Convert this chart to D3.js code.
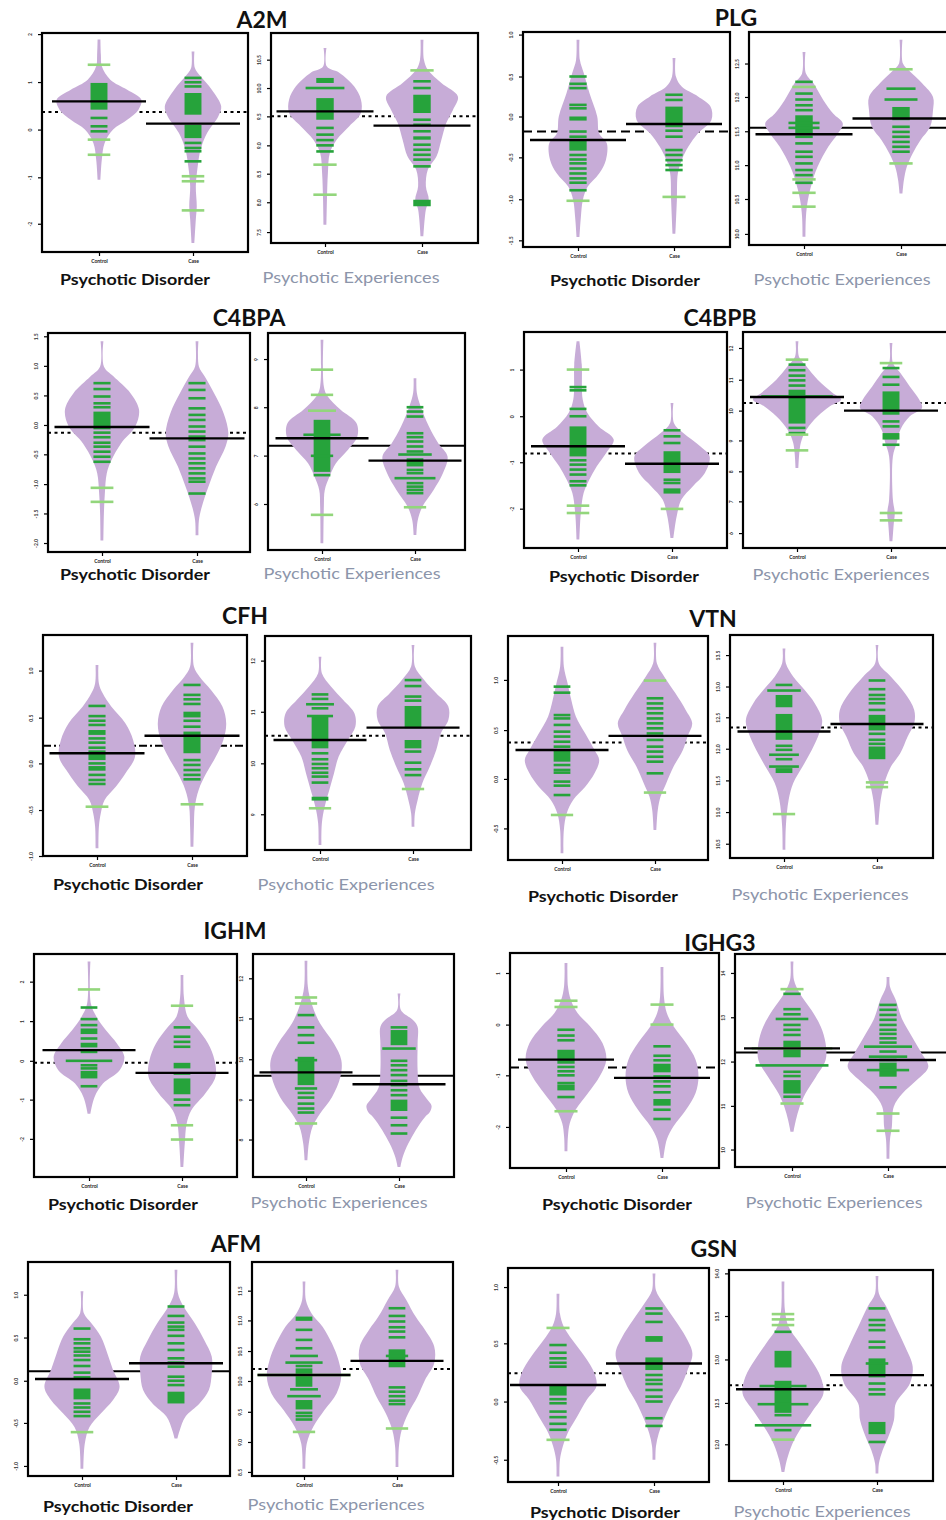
<!DOCTYPE html>
<html>
<head>
<meta charset="utf-8">
<script src="https://cdn.jsdelivr.net/npm/d3@7"></script>
<style>
  body { margin: 0; background: #fff; }
  text { font-family: Lato, "Open Sans", sans-serif; }
</style>
</head>
<body>
<div id="chart"></div>
<script>
// values; y in 0-100 units of each panel's own axis (box bottom = 0, top = 100)
const proteins = ['A2M', 'PLG', 'C4BPA', 'C4BPB', 'CFH', 'VTN', 'IGHM', 'IGHG3', 'AFM', 'GSN'];
const cohorts = ['Psychotic Disorder', 'Psychotic Experiences'];
const groups = ['Control', 'Case'];

// [protein][cohort][group] -> [value, half width in group units]
const violinProfiles = [
  [ // A2M
    [[[97,0.015],[90,0.02],[84.8,0.03],[78.7,0.12],[74.1,0.3],[69.6,0.45],[65,0.42],[60.4,0.3],[55.9,0.15],[49.8,0.06],[42.2,0.03],[33,0.015]],
     [[91.6,0.015],[84,0.02],[80.2,0.08],[74.1,0.2],[66.5,0.3],[62,0.27],[54.3,0.15],[46.7,0.08],[39,0.05],[30,0.03],[20.9,0.04],[14.8,0.03],[4.1,0.015]]],
    [[[92.9,0.015],[84,0.02],[81,0.15],[74.6,0.3],[68.3,0.37],[61.9,0.37],[55.6,0.25],[49.2,0.12],[42.9,0.05],[33.3,0.03],[20.6,0.02],[8.7,0.015]],
     [[96.8,0.015],[87.3,0.02],[82.5,0.06],[76.2,0.2],[69.8,0.37],[63.5,0.32],[57.1,0.25],[49.2,0.2],[41.3,0.15],[34.9,0.06],[27,0.04],[20.6,0.07],[15.9,0.04],[3.2,0.015]]]
  ],
  [ // PLG
    [[[96.4,0.015],[87,0.02],[80.9,0.06],[71.5,0.12],[60.7,0.2],[52.9,0.22],[48.2,0.3],[40.4,0.29],[34.2,0.22],[28,0.1],[21.8,0.05],[14,0.03],[4.7,0.015]],
     [[87.9,0.015],[79.3,0.02],[74.6,0.08],[70,0.25],[65.3,0.38],[59.1,0.39],[52.9,0.25],[46.7,0.15],[40.4,0.08],[34.2,0.04],[21.8,0.03],[6.2,0.015]]],
    [[[90.6,0.015],[80.5,0.02],[75.8,0.1],[68,0.2],[61.7,0.3],[57,0.4],[52.3,0.35],[46.1,0.25],[36.7,0.14],[28.9,0.08],[21.1,0.04],[13.3,0.02],[3.9,0.015]],
     [[96.4,0.015],[85.2,0.02],[82,0.08],[75.8,0.22],[69.5,0.33],[63.3,0.33],[55.5,0.3],[49.2,0.2],[43,0.12],[36.7,0.06],[30.5,0.03],[24.2,0.015]]]
  ],
  [ // C4BPA
    [[[96.2,0.015],[84.7,0.02],[80.2,0.12],[72.5,0.3],[64.9,0.39],[57.3,0.35],[49.6,0.2],[42,0.1],[35.9,0.05],[26.7,0.03],[17.6,0.02],[5.3,0.015]],
     [[96.2,0.015],[84.7,0.02],[80.2,0.08],[72.5,0.18],[63.4,0.28],[54.2,0.33],[48.1,0.3],[38.9,0.2],[29.8,0.12],[20.6,0.05],[14.5,0.02],[7.6,0.015]]],
    [[[96.9,0.015],[75.4,0.02],[70.8,0.06],[64.6,0.2],[58.5,0.37],[52.3,0.38],[46.2,0.28],[40,0.15],[33.8,0.08],[27.7,0.03],[20,0.02],[3.1,0.015]],
     [[79.2,0.015],[72.3,0.02],[66.2,0.06],[56.9,0.15],[49.2,0.25],[43.1,0.35],[35.4,0.3],[27.7,0.2],[20,0.08],[13.8,0.03],[6.9,0.015]]]
  ],
  [ // C4BPB
    [[[95.7,0.015],[85,0.04],[68.7,0.05],[62.5,0.1],[56.3,0.22],[50.2,0.38],[44,0.3],[37.8,0.2],[31.6,0.12],[25.5,0.06],[16.2,0.03],[3.9,0.015]],
     [[67.1,0.015],[57.9,0.02],[53.2,0.12],[47.1,0.3],[42.4,0.4],[34.7,0.35],[28.5,0.22],[22.4,0.1],[14.7,0.05],[4.6,0.015]]],
    [[[95.7,0.015],[88.7,0.02],[84.1,0.1],[77.9,0.22],[71.8,0.38],[68.7,0.47],[65.6,0.35],[61,0.22],[54.8,0.1],[48.6,0.04],[37,0.015]],
     [[94.9,0.015],[85.6,0.02],[81,0.1],[74.8,0.2],[68.7,0.3],[64.8,0.33],[61,0.2],[54.8,0.1],[48.6,0.06],[42.4,0.02],[22.4,0.02],[16.2,0.04],[11.6,0.03],[3.1,0.015]]]
  ],
  [ // CFH
    [[[86.4,0.015],[78.1,0.02],[73.6,0.06],[67.6,0.15],[60,0.3],[52.5,0.38],[44.9,0.4],[37.4,0.3],[31.4,0.2],[25.3,0.08],[19.3,0.04],[13.3,0.02],[3.5,0.015]],
     [[96.5,0.015],[85.7,0.02],[81.1,0.08],[75.1,0.2],[67.6,0.32],[60,0.36],[52.5,0.33],[44.9,0.25],[37.4,0.15],[29.9,0.07],[22.3,0.03],[13.3,0.02],[4.2,0.015]]],
    [[[90.3,0.015],[82.6,0.02],[76.3,0.12],[70.1,0.25],[63.9,0.37],[57.6,0.38],[51.4,0.3],[43.6,0.2],[35.8,0.15],[28,0.1],[20.2,0.05],[12.5,0.02],[2.3,0.015]],
     [[95.8,0.015],[85.7,0.02],[79.4,0.12],[73.2,0.25],[67,0.38],[60.7,0.38],[54.5,0.3],[46.7,0.25],[38.9,0.18],[31.2,0.1],[23.4,0.05],[17.1,0.02],[10.9,0.015]]]
  ],
  [ // VTN
    [[[95.2,0.015],[86.3,0.02],[78.9,0.06],[71.4,0.1],[64,0.15],[56.5,0.25],[49.1,0.35],[44.6,0.4],[38.7,0.35],[32.7,0.25],[26.8,0.12],[20.8,0.05],[13.4,0.02],[3,0.015]],
     [[97,0.015],[87.8,0.02],[81.8,0.1],[74.4,0.22],[67,0.33],[61,0.4],[55.1,0.35],[49.1,0.3],[41.7,0.2],[34.2,0.12],[28.3,0.06],[22.3,0.03],[13.4,0.015]]],
    [[[94,0.015],[87.3,0.02],[81.3,0.1],[75.4,0.22],[69.4,0.33],[61.9,0.41],[56,0.38],[48.5,0.3],[41,0.2],[33.6,0.1],[26.1,0.05],[14.2,0.02],[3.7,0.015]],
     [[95.5,0.015],[87.3,0.02],[81.3,0.15],[73.9,0.3],[66.4,0.4],[60.4,0.4],[54.5,0.33],[47,0.25],[41,0.15],[33.6,0.08],[26.1,0.04],[14.9,0.015]]]
  ],
  [ // IGHM
    [[[96.6,0.015],[77.8,0.02],[71.9,0.08],[65.9,0.18],[59.9,0.3],[53.9,0.38],[47.9,0.33],[41.9,0.15],[35.9,0.06],[28.4,0.015]],
     [[90.6,0.015],[80.8,0.02],[71.9,0.06],[67.4,0.15],[59.9,0.28],[52.4,0.35],[44.9,0.36],[37.4,0.25],[29.9,0.1],[24,0.05],[15,0.03],[4.5,0.015]]],
    [[[97,0.015],[85.3,0.02],[77.8,0.06],[68.9,0.15],[59.9,0.3],[52.4,0.38],[44.9,0.37],[35.9,0.28],[28.4,0.15],[22.5,0.07],[15,0.03],[7.5,0.015]],
     [[82.3,0.015],[74.9,0.02],[70.4,0.15],[67.4,0.2],[59.9,0.2],[48,0.2],[40,0.22],[35,0.3],[32,0.35],[29,0.33],[26.9,0.28],[21,0.18],[15,0.1],[9,0.04],[4.5,0.015]]]
  ],
  [ // IGHG3
    [[[95.3,0.015],[84.5,0.02],[78.3,0.05],[72.1,0.12],[65.9,0.25],[58.1,0.38],[50.4,0.42],[42.6,0.35],[34.9,0.23],[27.1,0.1],[20.9,0.04],[14.7,0.02],[7.8,0.015]],
     [[93.5,0.015],[79.8,0.02],[72.1,0.05],[65.9,0.12],[58.1,0.25],[50.4,0.35],[42.6,0.38],[34.9,0.35],[27.1,0.25],[19.4,0.12],[13.2,0.05],[4.7,0.015]]],
    [[[96.5,0.015],[87.9,0.02],[81.6,0.08],[73.8,0.2],[65.9,0.3],[58.1,0.35],[50.2,0.35],[42.4,0.25],[34.5,0.14],[28.3,0.08],[22,0.04],[16.5,0.015]],
     [[89.2,0.015],[84.8,0.02],[78.5,0.08],[69.1,0.15],[61.2,0.25],[53.4,0.35],[47.1,0.42],[40.8,0.3],[34.5,0.15],[28.3,0.06],[18.8,0.04],[12.6,0.02],[3.9,0.015]]]
  ],
  [ // AFM
    [[[86.3,0.015],[76.1,0.02],[71.4,0.1],[65.2,0.2],[57.3,0.27],[49.5,0.33],[41.7,0.4],[35.5,0.33],[29.2,0.2],[22.9,0.08],[15.2,0.03],[3.4,0.015]],
     [[96.4,0.015],[85.5,0.02],[79.2,0.08],[71.4,0.2],[63.6,0.3],[55.8,0.38],[48,0.38],[40.2,0.35],[33.9,0.25],[27.7,0.1],[21.4,0.04],[17.5,0.015]]],
    [[[90.9,0.015],[82.3,0.02],[76.1,0.08],[69.8,0.2],[62,0.3],[54.2,0.37],[46.4,0.4],[38.6,0.35],[30.8,0.22],[23,0.1],[15.2,0.03],[3.4,0.015]],
     [[96.4,0.015],[88.6,0.02],[82.3,0.1],[74.5,0.2],[68.3,0.3],[60.5,0.4],[52.7,0.4],[44.8,0.3],[37,0.22],[29.2,0.12],[21.4,0.05],[13.6,0.02],[4.2,0.015]]]
  ],
  [ // GSN
    [[[88,0.015],[78.7,0.02],[72.5,0.06],[66.3,0.15],[58.5,0.28],[50.8,0.38],[44.6,0.4],[38.4,0.3],[30.6,0.2],[22.8,0.1],[16.6,0.05],[10.4,0.02],[2.6,0.015]],
     [[97.4,0.015],[89.6,0.02],[83.4,0.1],[75.6,0.22],[67.9,0.33],[60.1,0.4],[52.3,0.35],[44.6,0.28],[36.8,0.18],[29,0.1],[22.8,0.05],[16.6,0.02],[10.4,0.015]]],
    [[[94.5,0.015],[81,0.02],[73.1,0.06],[65.2,0.18],[57.3,0.3],[49.4,0.4],[41.5,0.43],[33.5,0.32],[25.6,0.2],[17.7,0.1],[9.8,0.04],[4.3,0.015]],
     [[97.2,0.015],[88.9,0.02],[82.6,0.1],[73.1,0.2],[63.6,0.3],[54.1,0.38],[46.2,0.35],[36.7,0.2],[28.8,0.18],[20.9,0.12],[14.6,0.06],[8.2,0.02],[3.5,0.015]]]
  ]
];

// single green strokes, [protein][cohort][group]
const greenBars = [
  [[[61.2,57.4,55.1],[79.5,77.5,75.6,49.8,47.5,46,41.4]],
   [[54.8,51.6,49,46.5,43.6],[77,73.8,58.7,56.3,53.2,46.8,44.4,42,39.7,36.5]]],
  [[[79.3,75.9,73.9,66.1,64.5,53.7,51.3,42.8,40.7,38.9,36.5,34.2,31.9,29.9,26.4],[70.8,68.4,54.1,51.3,45.1,42.8,40.4,38.1,35.8]],
   [[76.6,71.1,68.3,65.6,63.3,50.8,47.7,43.8,41.4,38.3,35.2,32.8,29.2],[55.5,53.1,50.8,48.4,46.1,43.8]]],
  [[[77.1,74.4,71,67.9,66.1,54.5,52.4,49.9,48.1,45.8,43.5,41.2],[77.1,74,70.2,65.6,62.6,60.3,57.3,55,52.7,51.1,48.1,45,42.7,40.5,38.2,35.9,33.6,32.1,26.7]],
   [[34.5],[65.8,63.8,61.5,53.8,52,50,47.7,45.4,36.9,35.4,30.8,29.2,27.7,26.2]]],
  [[[74.5,73,64.4,61,40.6,38.6,36.3,34,30.9,29],[54.5,51.7,48.6,31.6,30.1,27,25.8]],
   [[84.9,82.3,79.8,77.6,75.2,55.6,53.2],[83.3,79.2,75.6,58.6,56.3,47.8]]],
  [[[67.9,63.3,61.2,59.3,53.2,51.3,49,47.2,41.9,36.7,34.4,32.6],[77.4,72.9,70.9,68.8,61.2,58.5,43.4,41.2,38.9,36.7,34.7]],
   [[72.7,70.6,66.2,45.2,42.4,40.2,38.2,36.1,34.3,31.5],[79.4,76.6,71.7,69.8,46,40.8,37.7,35]]],
  [[[77.4,74.7,64.7,63.2,60.3,57.3,55.1,52.8,50.6,42.4,40.2,39,35,33.2,29],[72.2,69.9,67.7,65.5,63.2,61,58.8,56.5,53.6,50.6,48.4,46.1,43.9,38.7]],
   [[77.6,50.3,48.5,44.3],[79.6,75.7,73.1,71.3,69.4,66.4,55.7,53,51.2]]],
  [[[76,70.8,68.1,62.1,56.1,50.1,48.7,40.7],[67.1,62.9,60.6,58.4,46.4,34.7,32.2]],
   [[72.6,67.1,63.6,60.2,37.7,35.6,32.9,30.7,28.9],[67.1,52.1,50.1,47.9,45.7,43.1,41.2,38.9,36.7,26.6,23.2,19.5]]],
  [[[64.3,61.6,59.4,47,45,43.1,39.5,33],[56.6,52.2,50.1,42.6,40.3,38,35.2,27.1,22.8]],
   [[81.3,74.1,71.7,66.7,64.4,62,44.7,42.7,33],[76.1,73.8,71.4,69.1,66.7,64.4,62.5,60.4,58.4,54.2,50.2,37.4]]],
  [[[68.9,63.9,62,59.7,58.1,56.3,54.2,51.4,48.3,46.1,33.9,32,30,28],[79.2,74.8,71.7,69.8,68.3,65.5,62,58.9,55,53,51.1,46.4,44.5,42.5]],
   [[68.3,63.6,59.7,51.4,29.5,28,26.4],[78.4,74.8,72.2,69.5,67.5,64.8,41.4,39.4,37.3,35.2,33.6]]],
  [[[64,60.4,57.8,55.7,53.9,38.7,36.8,32.9,30.3,27.2,24.4],[81.1,78.7,74.8,50,47.7,45.8,43,39.9,37.6,29.8,26.2]],
   [[70.7,31.2,24.1],[81.8,76.3,73.9,71.5,66,63.3,46.2,43.4,41.1,18.5]]]
];

// solid green runs [from, to]
const greenBlocks = [
  [[[[65,77.2]],[[62.7,72.6],[52,58.1]]], [[[76.2,78.6],[58.7,69]],[[61.9,70.6],[49.2,50.8],[17.5,20.6]]]],
  [[[[58.8,60.7],[44.8,49.8]],[[55.7,65.3]]], [[[52.3,60.9]],[[58.6,64.8]]]],
  [[[[56,64.1]],[]], [[[36,60]],[[38.5,42.3]]]],
  [[[[42.4,56.3]],[[34.7,44.8]]], [[[57.6,73.3]],[[61.7,72.5],[50.2,53.2]]]],
  [[[[54.8,57],[43.4,46.2],[38.6,40.7]],[[62.7,65.3],[46.5,56.3]]], [[[47.5,62.3],[23.1,24.9]],[[56.9,67.3],[47.5,51.4]]]],
  [[[[43.9,49.4]],[]], [[[67.6,73.1],[53,64.6],[38.1,40.3]],[[57.2,64.2],[44.3,50]]]],
  [[[[64.1,66.6],[58.1,60.2],[44.2,47.6]],[[48.7,51.2],[37.1,44.2]]], [[[41.2,53.9]],[[59.1,65.9],[29.6,34.7]]]],
  [[[[48.5,55],[36.1,38.8]],[[44.5,48.5],[29,32.1]]], [[[51.5,59.3],[34.5,40.8]],[[42.4,49]]]],
  [[[[35.8,40.9]],[[33.9,39.4]]], [[[72.5,74.5],[41.7,50.3],[31.1,35.5]],[[50.8,59.2]]]],
  [[[[40.4,45.7]],[[65.5,68.2],[52.3,58.2]]], [[[53.8,61.7],[32.3,47.5]],[[49.1,58.1],[22.2,28]]]]
];

// wider strokes [value, half width, light?]
const wideBars = [
  [[[],[]], [[[73.8,0.2]],[]]],
  [[[],[]], [[[57.3,0.16],[55,0.16]],[[73.4,0.15],[68.3,0.17]]]],
  [[[],[]], [[[64.2,0.15,1],[53.1,0.2],[43.4,0.12]],[[44,0.18],[33.1,0.22]]]],
  [[[],[]], [[[70.2,0.38]],[]]],
  [[[],[]], [[[68.1,0.15],[62.6,0.14]],[]]],
  [[[],[]], [[[75.1,0.18],[46.3,0.16],[41,0.16]],[]]],
  [[[[52.1,0.25]],[]], [[[52.4,0.12],[39.7,0.12]],[[57.6,0.18]]]],
  [[[],[]], [[[69.5,0.17],[47.7,0.38],[55.7,0.42,1]],[[56.5,0.25],[51.8,0.2],[45.5,0.22]]]],
  [[[],[]], [[[56.1,0.15],[53,0.2],[40.5,0.15],[37.3,0.18],[47.2,0.5,1]],[[56.1,0.12]]]],
  [[[],[]], [[[45,0.25],[36.4,0.27],[26.4,0.3]],[[55.7,0.12]]]]
];

// light green outlying strokes
const outlierBars = [
  [[[85.5,51.3,44.4],[34.6,32.3,19]], [[37.3,23],[82.2]]],
  [[[21.5],[23.3]], [[74.2,30.8,24.5,18],[82.5,38.3]]],
  [[[29.3,22.9],[]], [[83.1,71.5,16.2],[19.7]]],
  [[[82.6,19.6,16.2],[18.1]], [[87.2,52.5,45.2],[85.6,16.2,12.8]]],
  [[[22.3],[23.4]], [[19.5],[28.5]]],
  [[[20.1],[80.1,30.1]], [[19.7],[33.9,31.8]]],
  [[[84.1],[76.8,23.2,16.8]], [[80.5,77.8,24],[]]],
  [[[77.8,74.9,26.4],[76,66.7]], [[83.5,29.8],[25.1,17]]],
  [[[20.5],[]], [[20.6],[22.2]]],
  [[[72,19.7],[]], [[79.1,76.6,73.9,19.6],[]]]
];

// group medians [protein][cohort] -> [control, case]
const medians = [
  [[68.8,58.6],[62.7,55.9]],
  [[49.8,57.2],[52,59.4]],
  [[57.1,51.9],[51.5,41.2]],
  [[47.1,39],[69.9,63.6]],
  [[46.5,54.4],[51.4,57.2]],
  [[49.1,55.4],[56.7,60.1]],
  [[56.9,46.7],[46.9,41.6]],
  [[50.4,41.9],[55.7,50.2]],
  [[45.3,52.7],[47.2,53.8]],
  [[45.3,55.4],[43.5,50.2]]
];

// overall level [protein] -> [PD, PE]
const overall = [
  [63.9,60.3],[53.7,55],[54.5,48],[43.7,67.1],[49.9,53.4],
  [52.4,58.5],[51.2,45.4],[46.8,53.8],[48.9,50],[50.8,45.4]
];

const tickPos = [
  [[99.5,77.6,55.9,34.1,12.9],[87.3,73.8,60.3,46.5,33,19.4,5.2]],
  [[98.8,79.3,60.7,41.7,22.2,3.1],[85.2,69.5,53.4,37.5,21.6,5.2]],
  [[98.5,85,71.5,58,44.6,31,17.6,4.1],[88,65.8,43.5,21.2]],
  [[82.6,61,39.7,18.2],[92.6,77.9,63.6,49.8,35.5,21.6,6.9]],
  [[83.9,62.6,41.9,20.8,0],[88.5,64.6,40.5,16.7]],
  [[80.4,58,36.2,14.1],[91,76.9,63.1,49,34.8,20.6,6.4]],
  [[87.6,69.9,52.1,34.7,17.1],[89.1,71.1,52.8,34.7,16.8]],
  [[90.7,66.7,43.1,19.1],[91.1,70.3,49.5,28.7,8.2]],
  [[84.7,64.7,44.5,24.8,4.7],[86.6,72.7,58.4,44.4,30,15.9,1.9]],
  [[91.1,64.8,37.6,10.4],[98.4,78.2,57.6,37,17.4]]
];

const tickText = [
  [['2','1','0','-1','-2'],['10.5','10.0','9.5','9.0','8.5','8.0','7.5']],
  [['1.0','0.5','0.0','-0.5','-1.0','-1.5'],['12.5','12.0','11.5','11.0','10.5','10.0']],
  [['1.5','1.0','0.5','0.0','-0.5','-1.0','-1.5','-2.0'],['9','8','7','6']],
  [['1','0','-1','-2'],['12','11','10','9','8','7','6']],
  [['1.0','0.5','0.0','-0.5','-1.0'],['12','11','10','9']],
  [['1.0','0.5','0.0','-0.5'],['13.5','13.0','12.5','12.0','11.5','11.0','10.5']],
  [['2','1','0','-1','-2'],['12','11','10','9','8']],
  [['1','0','-1','-2'],['14','13','12','11','10']],
  [['1.0','0.5','0.0','-0.5','-1.0'],['11.5','11.0','10.5','10.0','9.5','9.0','8.5']],
  [['1.0','0.5','0.0','-0.5'],['14.0','13.5','13.0','12.5','12.0']]
];

// layout: title centre/baseline, panel boxes [left, top, right, bottom, controlX, caseX, labelX, labelY, overall line style]
const titleSpots = [[262,28],[736,26],[249,326],[720,326],[245,624],[713,627],[235,939],[720,951],[236,1252],[714,1257]];
const panelBoxes = [
  [[42,33,248,252,99,193,135,285,'dot'],[271,33,478,243,325,422,351,283,'dot']],
  [[523,32,730,247,578,674,625,286,'dash'],[749,32,960,245,804,901,842,285,'solid']],
  [[48,333,250,552,102,197,135,580,'dot'],[268,333,465,550,322,415,352,579,'solid']],
  [[524,332,727,548,578,672,624,582,'dot'],[743,332,950,548,797,891,841,580,'dot']],
  [[43,635,247,856,97,192,128,890,'dashdot'],[265,636,471,850,320,413,346,890,'dot']],
  [[508,636,708,860,562,655,603,902,'dot'],[730,635,933,858,784,877,820,900,'dot']],
  [[34,954,237,1177,89,182,123,1210,'dot'],[253,954,454,1177,306,399,339,1208,'solid']],
  [[510,953,719,1168,566,662,617,1210,'dash'],[735,954,950,1167,792,888,834,1208,'solid']],
  [[28,1262,230,1476,82,176,118,1512,'solid'],[252,1262,453,1476,304,397,336,1510,'dot']],
  [[508,1268,709,1482,558,654,605,1518,'dot'],[729,1270,933,1481,783,877,822,1517,'dot']]
];
const dashes = { dot: '3,3.5', dash: '9,5', dashdot: '8,3,2,3', solid: null };

const violetFill = '#c7acd7';
const green = '#26a33b';
const lightGreen = '#93d67c';
const barHalf = 0.09;
const barThick = 2.6;

const svg = d3.select('#chart').append('svg')
  .attr('width', 946)
  .attr('height', 1520)
  .style('background', '#fff');

proteins.forEach((protein, p) => {
  svg.append('text')
    .attr('x', titleSpots[p][0])
    .attr('y', titleSpots[p][1])
    .attr('text-anchor', 'middle')
    .attr('font-size', 23)
    .attr('font-weight', 700)
    .attr('fill', '#111')
    .text(protein);

  cohorts.forEach((cohort, c) => {
    const [l, t, r, b, cx, kx, lx, ly, style] = panelBoxes[p][c];
    const x = d3.scaleLinear().domain([1, 2]).range([cx, kx]);
    const y = d3.scaleLinear().domain([0, 100]).range([b, t]);
    const g = svg.append('g');

    // overall level line
    g.append('line')
      .attr('x1', l).attr('x2', r)
      .attr('y1', y(overall[p][c])).attr('y2', y(overall[p][c]))
      .attr('stroke', '#000')
      .attr('stroke-width', 2)
      .attr('stroke-dasharray', dashes[style]);

    groups.forEach((grp, k) => {
      const gx = k + 1;
      const area = d3.area()
        .y(d => y(d[0]))
        .x0(d => x(gx - d[1]))
        .x1(d => x(gx + d[1]))
        .curve(d3.curveCatmullRom.alpha(0.5));

      g.append('path')
        .datum(violinProfiles[p][c][k])
        .attr('d', area)
        .attr('fill', violetFill);

      g.selectAll(null)
        .data(greenBlocks[p][c][k]).enter()
        .append('rect')
        .attr('x', x(gx - barHalf))
        .attr('width', x(gx + barHalf) - x(gx - barHalf))
        .attr('y', d => y(d[1]))
        .attr('height', d => y(d[0]) - y(d[1]))
        .attr('fill', green);

      g.selectAll(null)
        .data(greenBars[p][c][k]).enter()
        .append('rect')
        .attr('x', x(gx - barHalf))
        .attr('width', x(gx + barHalf) - x(gx - barHalf))
        .attr('y', d => y(d) - barThick / 2)
        .attr('height', barThick)
        .attr('fill', green);

      g.selectAll(null)
        .data(wideBars[p][c][k]).enter()
        .append('rect')
        .attr('x', d => x(gx - d[1]))
        .attr('width', d => x(gx + d[1]) - x(gx - d[1]))
        .attr('y', d => y(d[0]) - barThick / 2)
        .attr('height', barThick)
        .attr('fill', d => d[2] ? lightGreen : green);

      g.selectAll(null)
        .data(outlierBars[p][c][k]).enter()
        .append('rect')
        .attr('x', x(gx - 0.12))
        .attr('width', x(gx + 0.12) - x(gx - 0.12))
        .attr('y', d => y(d) - barThick / 2)
        .attr('height', barThick)
        .attr('fill', lightGreen);

      // median
      g.append('line')
        .attr('x1', x(gx - 0.5)).attr('x2', x(gx + 0.5))
        .attr('y1', y(medians[p][c][k])).attr('y2', y(medians[p][c][k]))
        .attr('stroke', '#000')
        .attr('stroke-width', 2.4);
    });

    // axes
    const yAxis = g.append('g')
      .attr('transform', `translate(${l},0)`)
      .call(d3.axisLeft(y).tickValues(tickPos[p][c]).tickFormat((d, i) => tickText[p][c][i]).tickSize(4));
    yAxis.select('.domain').remove();
    yAxis.selectAll('.tick line').attr('stroke', '#000').attr('stroke-width', 1.2);
    yAxis.selectAll('.tick text')
      .attr('x', null).attr('dy', null)
      .attr('text-anchor', 'middle')
      .attr('transform', 'translate(-10,0) rotate(-90)')
      .attr('font-size', 5)
      .attr('font-weight', 700)
      .attr('fill', '#333');

    const xAxis = g.append('g')
      .attr('transform', `translate(0,${b})`)
      .call(d3.axisBottom(x).tickValues([1, 2]).tickFormat((d, i) => groups[i]).tickSize(4));
    xAxis.select('.domain').remove();
    xAxis.selectAll('.tick line').attr('stroke', '#000').attr('stroke-width', 1.2);
    xAxis.selectAll('.tick text')
      .attr('y', 7)
      .attr('font-size', 5)
      .attr('font-weight', 700)
      .attr('fill', '#222');

    g.append('rect')
      .attr('x', l).attr('y', t)
      .attr('width', r - l).attr('height', b - t)
      .attr('fill', 'none')
      .attr('stroke', '#000')
      .attr('stroke-width', 2.2);

    g.append('text')
      .attr('x', lx)
      .attr('y', ly)
      .attr('text-anchor', 'middle')
      .attr('font-size', 16)
      .attr('font-weight', c === 0 ? 700 : 400)
      .attr('fill', c === 0 ? '#111' : '#8c95aa')
      .attr('textLength', c === 0 ? 150 : 177)
      .attr('lengthAdjust', 'spacingAndGlyphs')
      .text(cohort);
  });
});
</script>
</body>
</html>
